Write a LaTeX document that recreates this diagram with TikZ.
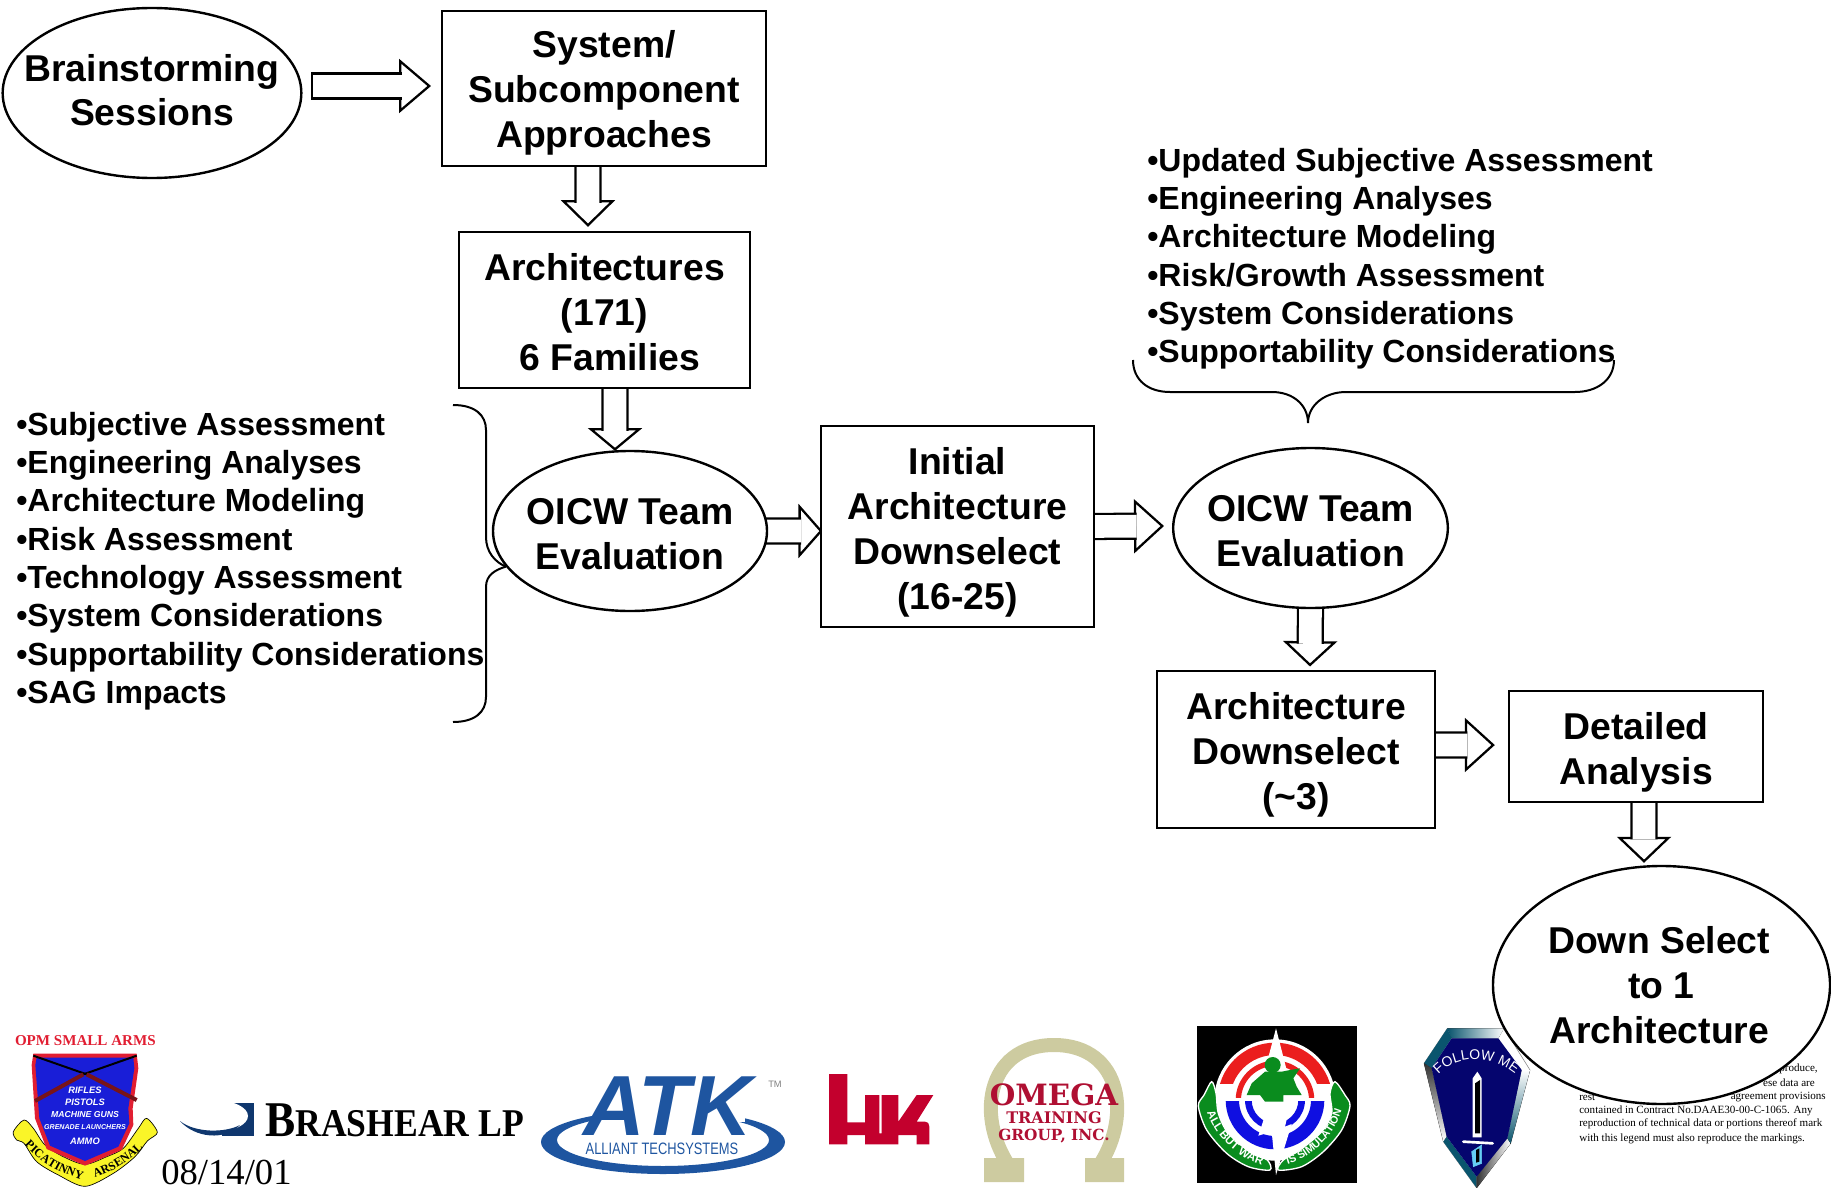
\documentclass[tikz,border=0pt]{standalone}
\usepackage{fontspec}
\setmainfont{Liberation Sans}
\newfontfamily\timesfont{Liberation Serif}
\newfontfamily\slabfont{DejaVu Serif}
\usetikzlibrary{arrows.meta,shapes.geometric,decorations.text}
\pgfdeclarelayer{back}
\pgfsetlayers{back,main}
\definecolor{crestblue}{RGB}{25,30,215}
\definecolor{crestred}{RGB}{225,30,50}
\definecolor{crestyellow}{RGB}{250,245,40}
\definecolor{rifle}{RGB}{120,20,25}
\definecolor{atkblue}{RGB}{30,85,160}
\definecolor{brashnavy}{RGB}{15,55,110}
\definecolor{hkred}{RGB}{195,0,45}
\definecolor{omegakhaki}{RGB}{205,203,160}
\definecolor{omegared}{RGB}{175,15,50}
\definecolor{emblemred}{RGB}{235,30,30}
\definecolor{emblemgreen}{RGB}{10,140,30}
\definecolor{emblemblue}{RGB}{15,15,225}
\definecolor{shieldnavy}{RGB}{5,5,110}
\definecolor{shieldteal}{RGB}{10,85,110}
\newcommand{\textdrop}[1]{\rule{0pt}{\dimexpr 20.5pt+2\dimexpr #1\relax\relax}}
\tikzset{
  boxnode/.style={draw,fill=white,line width=1.8pt,inner sep=0pt,align=center,font=\fontsize{28}{33.7}\selectfont\bfseries},
  ovalnode/.style={boxnode,ellipse,inner xsep=-40pt,inner ysep=-20pt},
  listnode/.style={inner sep=0pt,anchor=north west,align=left,font=\fontsize{24}{28.7}\selectfont\bfseries},
  legendnode/.style={inner sep=0pt,font=\timesfont\fontsize{8.3}{10}\selectfont},
  blockarrow/.style={line width=1.7pt,-{Triangle[length=#1,width=40.5pt,fill=white]},
    postaction={draw,-,double,double distance=17pt,shorten >=#1-2pt}},
  crestlabel/.style={inner sep=0pt,text=white,font=\bfseries\itshape}
}
\begin{document}
\begin{tikzpicture}[x=0.75pt,y=-0.75pt]
\useasboundingbox (0,0) rectangle (1831,1188);
\begin{scope}[shift={(0,1025)},x=0.25pt,y=-0.25pt]
\node (opm) at (256,47) [inner sep=0pt,text=crestred,font=\timesfont\bfseries\fontsize{11.3}{12}\selectfont] {OPM SMALL ARMS};
\filldraw[fill=crestyellow,draw=black,line width=0.5pt] plot[smooth cycle] coordinates {(72,285) (40,320) (50,345) (72,355) (110,410) (175,450) (255,484) (340,445) (405,395) (442,348) (472,322) (440,280) (415,310) (370,370) (320,395) (255,418) (190,395) (135,360) (100,310)};
\fill[crestred] (100,86) -- (410,86) -- (415,130) -- (398,250) -- (400,300) -- (365,375) -- (255,422) -- (140,372) -- (105,280) -- (95,120) -- cycle;
\fill[crestblue] (110,98) -- (400,98) -- (403,130) -- (385,250) -- (388,295) -- (355,365) -- (255,408) -- (150,362) -- (118,280) -- (106,120) -- cycle;
\draw[black,line width=1.5pt] (100,92) -- (260,148);
\draw[black,line width=1.5pt] (410,92) -- (250,148);
\draw[rifle,line width=3pt] (260,148) -- (410,225);
\draw[rifle,line width=3pt] (250,148) -- (105,228);
\node (rifles) at (255,195) [crestlabel] {\fontsize{7}{8}\selectfont RIFLES};
\node (pistols) at (255,233) [crestlabel] {\fontsize{7}{8}\selectfont PISTOLS};
\node (guns) at (255,270) [crestlabel] {\fontsize{6.5}{8}\selectfont MACHINE GUNS};
\node (grenade) at (255,307) [crestlabel] {\fontsize{5.3}{8}\selectfont GRENADE LAUNCHERS};
\node (ammo) at (255,348) [crestlabel] {\fontsize{7}{8}\selectfont AMMO};
\path[decorate,decoration={text along path,text align=center,text={|\timesfont\bfseries\fontsize{9}{9}\selectfont|PICATINNY}}] (68,352) .. controls (120,415) and (190,450) .. (256,466);
\path[decorate,decoration={text along path,text align=center,text={|\timesfont\bfseries\fontsize{9}{9}\selectfont|ARSENAL}}] (272,462) .. controls (340,440) and (390,410) .. (438,358);
\end{scope}
\node (date) at (161,1184) [anchor=base west,inner sep=0pt,font=\timesfont\fontsize{27.5}{30}\selectfont] {08/14/01};
\fill[brashnavy] (222,1103) rectangle (254,1136);
\fill[white] (214,1116) ellipse [x radius=34,y radius=16];
\fill[brashnavy] (180,1121) .. controls (195,1138) and (225,1141) .. (240,1125) .. controls (225,1133) and (195,1133) .. (180,1121);
\node (brashear) at (265,1136) [anchor=base west,inner sep=0pt,xscale=0.905,font=\timesfont\bfseries\fontsize{29.5}{30}\selectfont] {{\fontsize{37.5}{38}\selectfont B}RASHEAR LP};
\fill[atkblue,even odd rule] (663,1142) ellipse [x radius=122,y radius=32] (663,1140) ellipse [x radius=106,y radius=26];
\fill[white] (597,1100) rectangle (745,1122);
\node (atk) at (668,1135) [anchor=base,inner sep=0pt,text=atkblue,font=\fontsize{64}{64}\selectfont\bfseries\itshape] {ATK};
\node (tm) at (775,1084) [inner sep=0pt,text=gray,font=\fontsize{7}{8}\selectfont] {TM};
\node (alliant) at (662,1149) [inner sep=0pt,xscale=0.78,text=atkblue,font=\fontsize{12.4}{13}\selectfont] {ALLIANT TECHSYSTEMS};
\begin{scope}[shift={(810,1060)},x=0.25pt,y=-0.25pt]
\fill[hkred] (57,42) -- (112,42) -- (112,187) -- (165,187) -- (165,105) -- (208,105) -- (208,220) -- (215,220) -- (215,105) -- (265,105) -- (265,185) -- (320,105) -- (370,105) -- (320,185) -- (345,185) .. controls (355,187) and (358,192) .. (358,200) -- (358,253) -- (320,253) -- (320,225) -- (265,225) -- (265,253) -- (165,253) -- (165,225) -- (112,225) -- (112,253) -- (57,253) -- cycle;
\end{scope}
\draw[omegakhaki,line width=10.5pt] (1012,1170) .. controls (975,1120) and (985,1045) .. (1054,1045) .. controls (1123,1045) and (1133,1120) .. (1096,1170);
\fill[omegakhaki] (984,1158) rectangle (1024,1182) (1085,1158) rectangle (1124,1182);
\node (omega) at (1054,1095) [inner sep=0pt,text=omegared,font=\slabfont\bfseries\fontsize{22}{24}\selectfont] {OMEGA};
\node (training) at (1054,1118) [inner sep=0pt,text=omegared,font=\slabfont\bfseries\fontsize{12}{14}\selectfont] {TRAINING};
\node (group) at (1054,1136) [inner sep=0pt,text=omegared,font=\slabfont\bfseries\fontsize{11.5}{14}\selectfont] {GROUP, INC.};
\begin{scope}[shift={(1190,1020)},x=0.25pt,y=-0.25pt]
\fill[black] (20,18) rectangle (500,490);
\fill[white] (255,240) circle [radius=182];
\begin{scope}
\clip (0,0) rectangle (525,190);
\fill[emblemred,even odd rule] (255,240) circle [radius=172] (255,240) circle [radius=135];
\end{scope}
\begin{scope}
\clip (0,0) rectangle (525,232);
\fill[emblemred,even odd rule] (255,240) circle [radius=118] (255,240) circle [radius=102];
\end{scope}
\begin{scope}
\clip (0,245) rectangle (525,525);
\fill[emblemblue,even odd rule] (255,240) circle [radius=148] (255,240) circle [radius=108];
\fill[emblemblue,even odd rule] (255,240) circle [radius=90] (255,240) circle [radius=70];
\end{scope}
\fill[white] (258,25) -- (290,150) -- (225,150) -- cycle;
\fill[white] (245,225) -- (305,235) -- (285,320) -- (305,312) -- (258,465) -- (245,335) -- (205,347) -- cycle;
\fill[emblemgreen] (248,135) circle [radius=24];
\fill[emblemgreen] (170,225) -- (185,190) -- (225,155) -- (275,155) -- (300,150) -- (330,145) -- (310,175) -- (320,200) -- (335,225) -- (280,225) -- (280,245) -- (225,245) -- (210,225) -- cycle;
\filldraw[fill=emblemgreen,draw=white,line width=1pt] plot[smooth cycle] coordinates {(65,185) (42,225) (25,258) (50,330) (110,400) (175,440) (240,450) (232,420) (185,400) (115,340) (85,280) (78,220)};
\filldraw[fill=emblemgreen,draw=white,line width=1pt] plot[smooth cycle] coordinates {(435,185) (465,225) (480,258) (455,330) (400,395) (335,440) (265,450) (280,420) (330,390) (395,335) (425,280) (420,220)};
\path[decorate,decoration={text along path,text align=center,text color=white,text={|\bfseries\fontsize{8.5}{9}\selectfont|ALL BUT WAR}}] (44,258) .. controls (70,350) and (150,425) .. (236,440);
\path[decorate,decoration={text along path,text align=center,text color=white,text={|\bfseries\fontsize{8}{9}\selectfont|IS SIMULATION}}] (262,440) .. controls (350,428) and (445,350) .. (462,240);
\end{scope}
\begin{scope}[shift={(1420,1020)},x=0.25pt,y=-0.25pt]
\fill[white] (82,25) -- (252,25) -- (330,150) -- (272,370) -- (170,504) -- (70,365) -- (12,130) -- cycle;
\draw[gray,line width=0.4pt] (82,25) -- (252,25) -- (330,150) -- (272,370) -- (170,504) -- (70,365) -- (12,130) -- cycle;
\fill[left color=shieldteal,right color=white] (82,25) -- (252,25) -- (235,55) -- (95,55) -- cycle;
\fill[shieldteal] (12,130) -- (82,25) -- (95,55) -- (35,145) -- cycle;
\fill[top color=black!80,bottom color=white] (12,130) -- (35,145) -- (80,350) -- (70,365) -- cycle;
\fill[shieldteal] (70,365) -- (80,350) -- (170,470) -- (170,504) -- cycle;
\fill[left color=black!80,right color=white] (170,504) -- (170,470) -- (262,355) -- (272,370) -- cycle;
\fill[top color=white,bottom color=shieldteal] (330,150) -- (305,150) -- (262,355) -- (272,370) -- cycle;
\fill[shieldnavy] (95,55) -- (235,55) -- (305,150) -- (262,355) -- (170,470) -- (80,350) -- (35,145) -- cycle;
\fill[white] (172,155) -- (185,175) -- (185,352) -- (158,352) -- (158,175) -- cycle;
\fill[black] (165,190) -- (180,180) -- (180,340) -- (165,340) -- cycle;
\filldraw[fill=cyan!60,draw=cyan!60] (155,395) -- (185,375) -- (185,430) -- (160,440) -- cycle;
\fill[black] (168,390) -- (178,385) -- (178,425) -- (168,428) -- cycle;
\draw[white,line width=2pt,line cap=round] (130,365) -- (218,370);
\path[decorate,decoration={text along path,text align=center,text color=white,text={|\fontsize{10.5}{11}\selectfont|FOLLOW ME}}] (58,160) .. controls (110,105) and (215,105) .. (282,158);
\end{scope}
\node (legendone) at (1818,1069) [legendnode,anchor=east] {produce,};
\node (legendtwo) at (1815,1083) [legendnode,anchor=east] {ese data are};
\node (legendthree) at (1579,1097) [legendnode,anchor=west] {rest};
\node (legendfour) at (1826,1097) [legendnode,anchor=east] {agreement provisions};
\node (legendfive) at (1579,1111) [legendnode,anchor=west] {contained in Contract No.DAAE30-00-C-1065. Any};
\node (legendsix) at (1579,1124) [legendnode,anchor=west] {reproduction of technical data or portions thereof mark};
\node (legendseven) at (1579,1139) [legendnode,anchor=west] {with this legend must also reproduce the markings.};
\node (sessions) at (152,93) [ovalnode,minimum width=224pt,minimum height=127.5pt] {Brainstorming\\Sessions\rule[-4.5pt]{0pt}{0pt}};
\node (approaches) at (604,88.5) [boxnode,minimum width=243pt,minimum height=116pt] {\textdrop{3pt}System/\\Subcomponent\\Approaches};
\node (archs) at (604.5,310) [boxnode,minimum width=218pt,minimum height=117pt] {\textdrop{1.5pt}Architectures\\(171)\\\hspace*{8pt}6 Families};
\node (evalone) at (630,531) [ovalnode,minimum width=205.5pt,minimum height=120pt] {\textdrop{1.75pt}OICW Team\\Evaluation};
\node (initial) at (957.5,526.5) [boxnode,minimum width=204.75pt,minimum height=150.75pt] {\textdrop{4.4pt}Initial\\Architecture\\Downselect\\(16-25)};
\node (evaltwo) at (1310.5,528) [ovalnode,minimum width=206pt,minimum height=120pt] {\textdrop{2.2pt}OICW Team\\Evaluation};
\node (archdown) at (1296,749.5) [boxnode,minimum width=208.5pt,minimum height=117.75pt] {\textdrop{4pt}Architecture\\Downselect\\(\textasciitilde3)};
\node (detailed) at (1636,746.5) [boxnode,minimum width=190.5pt,minimum height=83.25pt] {\textdrop{4.4pt}Detailed\\Analysis};
\node (downselect) at (1661.5,985) [ovalnode,minimum width=252.75pt,minimum height=178.5pt] {Down Select\hspace*{3.5pt}\\to 1\hspace*{3.5pt}\\Architecture\hspace*{3.5pt}};
\node (leftlist) at (16,412) [listnode] {•Subjective Assessment\\•Engineering Analyses\\•Architecture Modeling\\•Risk Assessment\\•Technology Assessment\\•System Considerations\\•Supportability Considerations\\•SAG Impacts};
\node (rightlist) at (1147,148) [listnode] {•Updated Subjective Assessment\\•Engineering Analyses\\•Architecture Modeling\\•Risk/Growth Assessment\\•System Considerations\\•Supportability Considerations};
\begin{pgfonlayer}{back}
\draw[blockarrow=24pt] (312,86) -- (431,86);
\draw[line width=1.7pt] (312,72) -- (312,100);
\draw[blockarrow=20pt] ([xshift=-12pt,yshift=3pt]approaches.south) -- ([xshift=-12.4pt,yshift=3pt]archs.north);
\draw[blockarrow=17pt] ([xshift=7.9pt,yshift=3pt]archs.south) -- ([xshift=-11.25pt,yshift=-0.75pt]evalone.north);
\draw[blockarrow=18pt] ([xshift=-3pt]evalone.east) -- ([xshift=2pt,yshift=-3.4pt]initial.west);
\draw[blockarrow=22.5pt] ([xshift=-3pt]initial.east) -- ([xshift=-6pt,yshift=1.5pt]evaltwo.west);
\draw[blockarrow=19pt] ([yshift=3pt]evaltwo.south) -- ([xshift=10.5pt,yshift=2.5pt]archdown.north);
\draw[blockarrow=22.5pt] ([xshift=-3pt,yshift=3.4pt]archdown.east) -- ([xshift=-9.75pt,yshift=1.1pt]detailed.west);
\draw[blockarrow=19.5pt] ([xshift=6pt,yshift=3pt]detailed.south) -- ([xshift=-13.1pt,yshift=1.5pt]downselect.north);
\end{pgfonlayer}
\draw[line width=1.5pt] (453,405) .. controls (475,405) and (486,415) .. (486,430) -- (486,537) .. controls (486,552) and (495,562) .. (evalone.196);
\draw[line width=1.5pt] (evalone.196) .. controls (495,570) and (486,575) .. (486,587) -- (486,697) .. controls (486,712) and (475,722) .. (453,722);
\draw[line width=1.5pt] (1133,360) .. controls (1133,380) and (1148,392) .. (1170,392) -- (1272,392) .. controls (1293,392) and (1308,405) .. (1308,423) .. controls (1308,405) and (1325,392) .. (1346,392) -- (1575,392) .. controls (1597,392) and (1614,380) .. (1614,360);
\end{tikzpicture}
\end{document}
